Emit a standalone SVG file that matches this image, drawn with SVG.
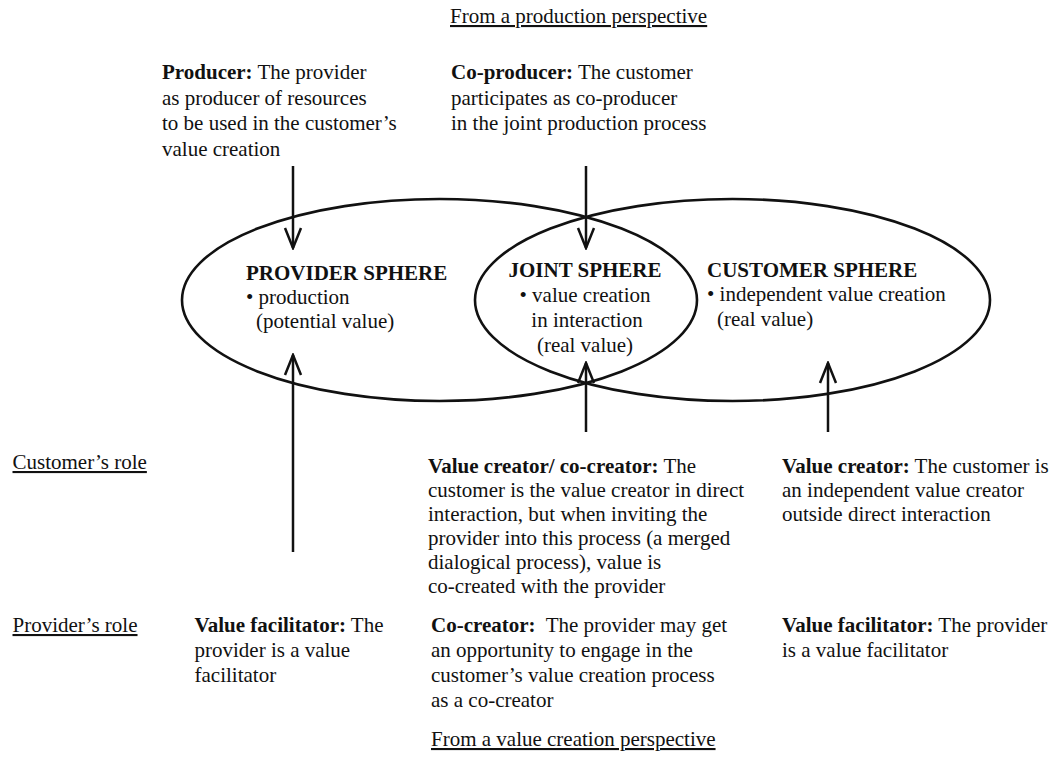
<svg xmlns="http://www.w3.org/2000/svg" width="1063" height="778" viewBox="0 0 1063 778">
<defs>
<style>
text{font-family:"Liberation Serif","Times New Roman",serif;font-size:21px;fill:#111}
.b{font-weight:bold}
.u{text-decoration:underline}
.sphere{fill:none;stroke:#111;stroke-width:2.6}
.conn line{stroke:#111;stroke-width:2.5}
</style>
<marker id="ah" viewBox="-22 -10 24 20" refX="0" refY="0" markerWidth="24" markerHeight="20" markerUnits="userSpaceOnUse" orient="auto">
<path d="M-20,-8 L0,0 L-20,8" fill="none" stroke="#111" stroke-width="2.5"/>
</marker>
</defs>
<rect width="1063" height="778" fill="#fff"/>

<g id="title-production"><text class="u" x="450" y="23">From a production perspective</text></g>
<g id="title-value"><text class="u" x="431" y="746">From a value creation perspective</text></g>

<g id="producer">
<text x="162" y="79"><tspan class="b">Producer:</tspan> The provider</text>
<text x="162" y="104.5">as producer of resources</text>
<text x="162" y="130">to be used in the customer’s</text>
<text x="162" y="155.5">value creation</text>
</g>

<g id="co-producer">
<text x="451" y="79"><tspan class="b">Co-producer:</tspan> The customer</text>
<text x="451" y="104.5">participates as co-producer</text>
<text x="451" y="130">in the joint production process</text>
</g>

<g id="provider-sphere">
<ellipse class="sphere" cx="439.5" cy="300" rx="257.5" ry="101"/>
<text class="b" x="246" y="280">PROVIDER SPHERE</text>
<text x="246" y="304">• production</text>
<text x="256" y="328">(potential value)</text>
</g>

<g id="customer-sphere">
<ellipse class="sphere" cx="732.5" cy="300" rx="257.5" ry="101"/>
<text class="b" x="707" y="277">CUSTOMER SPHERE</text>
<text x="707" y="301">• independent value creation</text>
<text x="717" y="326">(real value)</text>
</g>

<g id="joint-sphere" text-anchor="middle">
<text class="b" x="585" y="277">JOINT SPHERE</text>
<text x="585" y="302">• value creation</text>
<text x="587" y="327">in interaction</text>
<text x="585" y="352">(real value)</text>
</g>

<g id="customer-role-label"><text class="u" x="12.5" y="469">Customer’s role</text></g>
<g id="provider-role-label"><text class="u" x="12.5" y="632">Provider’s role</text></g>

<g id="value-co-creator">
<text x="428" y="473"><tspan class="b">Value creator/ co-creator:</tspan> The</text>
<text x="428" y="497">customer is the value creator in direct</text>
<text x="428" y="521">interaction, but when inviting the</text>
<text x="428" y="545">provider into this process (a merged</text>
<text x="428" y="569">dialogical process), value is</text>
<text x="428" y="593">co-created with the provider</text>
</g>

<g id="value-creator">
<text x="782" y="473"><tspan class="b">Value creator:</tspan> The customer is</text>
<text x="782" y="497">an independent value creator</text>
<text x="782" y="521">outside direct interaction</text>
</g>

<g id="value-facilitator-left">
<text x="194.5" y="632"><tspan class="b">Value facilitator:</tspan> The</text>
<text x="194.5" y="657">provider is a value</text>
<text x="194.5" y="682">facilitator</text>
</g>

<g id="co-creator">
<text x="431" y="632" xml:space="preserve"><tspan class="b">Co-creator:</tspan>  The provider may get</text>
<text x="431" y="657">an opportunity to engage in the</text>
<text x="431" y="682">customer’s value creation process</text>
<text x="431" y="707">as a co-creator</text>
</g>

<g id="value-facilitator-right">
<text x="782" y="632"><tspan class="b">Value facilitator:</tspan> The provider</text>
<text x="782" y="657">is a value facilitator</text>
</g>

<g id="connectors" class="conn">
<line x1="293" y1="166" x2="293" y2="248" marker-end="url(#ah)"/>
<line x1="586" y1="166" x2="586" y2="248" marker-end="url(#ah)"/>
<line x1="293" y1="552" x2="293" y2="355" marker-end="url(#ah)"/>
<line x1="586" y1="432" x2="586" y2="363" marker-end="url(#ah)"/>
<line x1="828" y1="432" x2="828" y2="363" marker-end="url(#ah)"/>
</g>
</svg>
